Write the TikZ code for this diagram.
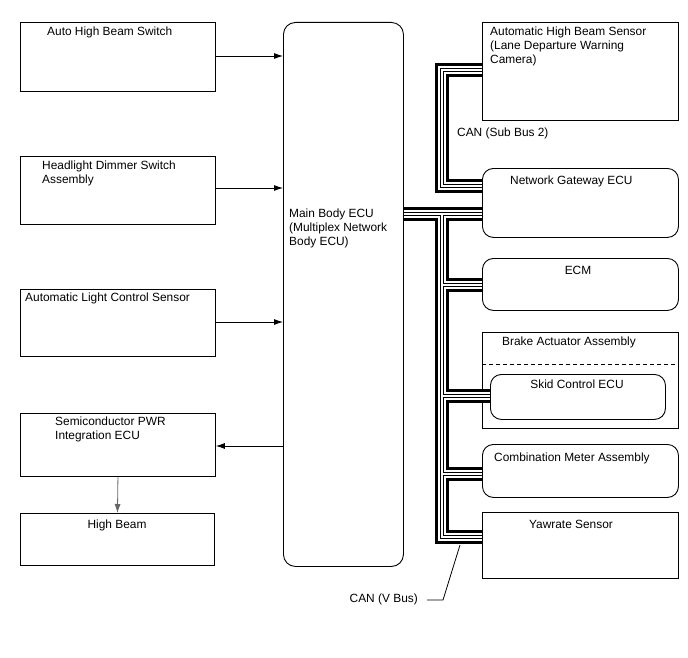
\documentclass[tikz,border=0pt]{standalone}
\usepackage{fontspec}
\setmainfont{Liberation Sans}
\usetikzlibrary{arrows.meta}
\tikzset{
  box/.style={draw, line width=0.9pt, fill=white, anchor=north west, inner sep=0pt},
  rbox/.style={box, rounded corners=11pt},
  txt/.style={inner sep=0pt, anchor=north west, font=\fontsize{11.9}{14.2}\selectfont, align=left},
  ctxt/.style={txt, anchor=north, align=center},
  sig/.style={line width=0.8pt, -{Latex[length=9pt,width=6pt]}},
  thin line/.style={line width=0.8pt},
}
\begin{document}
\begin{tikzpicture}[x=1pt, y=-1pt]
\useasboundingbox (0,0) rectangle (688,658);
\fill[white] (0,0) rectangle (688,658);

% left column boxes
\node[box, minimum width=195pt, minimum height=69pt] (ahbs) at (20,22) {};
\node[box, minimum width=195pt, minimum height=68pt] (hdsa) at (20,156) {};
\node[box, minimum width=195pt, minimum height=67pt] (alcs) at (20,289) {};
\node[box, minimum width=195pt, minimum height=63pt] (spie) at (20,413) {};
\node[box, minimum width=194pt, minimum height=52pt] (hb) at (20,513) {};

% main body ECU
\node[box, rounded corners=12pt, minimum width=120pt, minimum height=544pt] (mb) at (283,22) {};

% right column
\node[box, minimum width=196pt, minimum height=98pt] (ahbsen) at (482,22) {};
\node[rbox, minimum width=196pt, minimum height=69pt] (gw) at (482,168) {};
\node[rbox, minimum width=196pt, minimum height=52pt] (ecm) at (482,258) {};
\node[box, minimum width=196pt, minimum height=96pt] (brake) at (482,332) {};
\node[rbox, minimum width=175pt, minimum height=45pt] (skid) at (490,374) {};
\node[rbox, minimum width=196pt, minimum height=53pt] (cm) at (482,444) {};
\node[box, minimum width=196pt, minimum height=66pt] (yaw) at (482,512) {};
\draw[thin line, dash pattern=on 4pt off 3pt] (brake.west |- 0,364) -- (brake.east |- 0,364);

% texts
\node[txt] (t-ahbs) at (47,26.5) {Auto High Beam Switch};
\node[txt] (t-hdsa) at (42,160.5) {Headlight Dimmer Switch\\Assembly};
\node[txt] (t-alcs) at (25,292.5) {Automatic Light Control Sensor};
\node[txt] (t-spie) at (55,416.5) {Semiconductor PWR\\Integration ECU};
\node[ctxt] (t-hb) at (117,519.5) {High Beam};
\node[txt] (t-mb) at (289,208.5) {Main Body ECU\\(Multiplex Network\\Body ECU)};
\node[txt] (t-ahbsen) at (490,26.5) {Automatic High Beam Sensor\\(Lane Departure Warning\\Camera)};
\node[txt] (t-sub) at (457,127.5) {CAN (Sub Bus 2)};
\node[txt] (t-gw) at (510,175.5) {Network Gateway ECU};
\node[ctxt] (t-ecm) at (578,265.5) {ECM};
\node[txt] (t-brake) at (502,336.5) {Brake Actuator Assembly};
\node[ctxt] (t-skid) at (577,379.5) {Skid Control ECU};
\node[txt] (t-cm) at (494,452.5) {Combination Meter Assembly};
\node[ctxt] (t-yaw) at (571,519.5) {Yawrate Sensor};
\node[txt, anchor=north east] (t-vbus) at (418,593.5) {CAN (V Bus)};

% signal arrows
\draw[sig] (ahbs.east |- 0,56) -- (mb.west |- 0,56);
\draw[sig] (hdsa.east |- 0,188) -- (mb.west |- 0,188);
\draw[sig] (alcs.east |- 0,322) -- (mb.west |- 0,322);
\draw[sig] (mb.west |- 0,446) -- (spie.east |- 0,446);
\draw[sig, black!60] (spie.south) -- (hb.north);

% CAN buses (thick / double / thick composite)
\foreach \w/\c in {14/black, 8/white, 4/black, 2/white}{
  \draw[line width=\w pt, draw=\c, line cap=butt, line join=miter]
    (ahbsen.west |- 0,70) -| (442,186) -- (gw.west |- 0,186)
    (mb.east |- 0,214) -- (gw.west |- 0,214)
    (442,214) |- (yaw.west |- 0,537)
    (442,285) -- (ecm.west |- 0,285)
    (442,396) -- (skid.west |- 0,396)
    (442,474) -- (cm.west |- 0,474);
}

% V bus leader
\coordinate (lead-a) at (460,545);
\coordinate (lead-b) at (443,600);
\coordinate (lead-c) at (427,600);
\draw[thin line] (lead-a) -- (lead-b) -- (lead-c);
\end{tikzpicture}
\end{document}
